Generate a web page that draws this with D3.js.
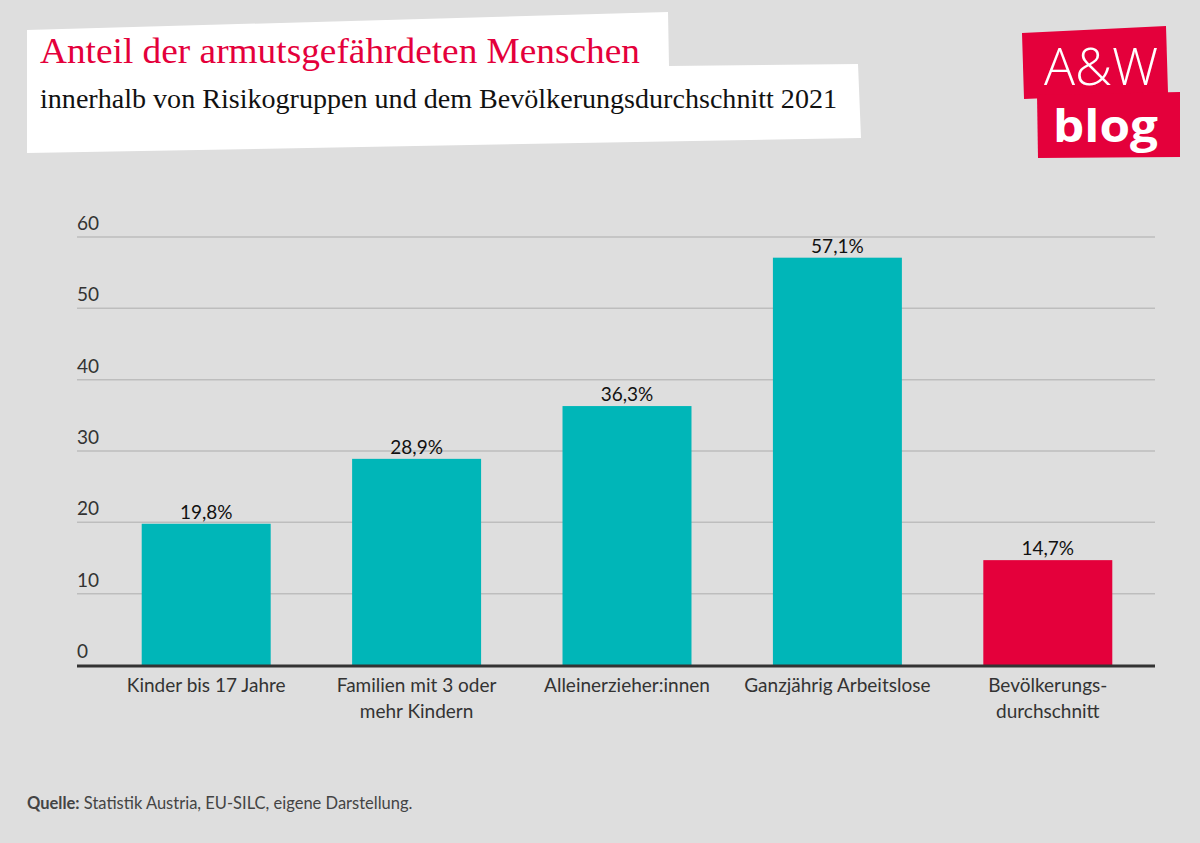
<!DOCTYPE html>
<html>
<head>
<meta charset="utf-8">
<script src="https://cdn.jsdelivr.net/npm/d3@7"></script>
<style>
  html, body { margin: 0; padding: 0; background: #dedede; }
  svg { display: block; }
</style>
</head>
<body>
<svg id="chart" width="1200" height="843"></svg>
<script>
const categories = [
  ["Kinder bis 17 Jahre"],
  ["Familien mit 3 oder", "mehr Kindern"],
  ["Alleinerzieher:innen"],
  ["Ganzjährig Arbeitslose"],
  ["Bevölkerungs-", "durchschnitt"]
];
const values = [19.8, 28.9, 36.3, 57.1, 14.7];
const valueLabels = ["19,8%", "28,9%", "36,3%", "57,1%", "14,7%"];
const highlight = [false, false, false, false, true];
const yTicks = [0, 10, 20, 30, 40, 50, 60];
const title = "Anteil der armutsgefährdeten Menschen";
const subtitle = "innerhalb von Risikogruppen und dem Bevölkerungsdurchschnitt 2021";
const source = "Statistik Austria, EU-SILC, eigene Darstellung.";

(function () {
const teal = "#00b6b8", red = "#e4003b";
const sans = "Lato, 'Open Sans', sans-serif";
const serif = "'Liberation Serif', 'DejaVu Serif', serif";

const svg = d3.select("#chart");
svg.append("rect").attr("width", 1200).attr("height", 843).attr("fill", "#dedede");

// title white backdrop
svg.append("path")
  .attr("d", "M27,30 L668,12 L669,66 L858,64 L861,138 L27,153 Z")
  .attr("fill", "#ffffff");
svg.append("text").attr("x", 40).attr("y", 63)
  .attr("font-family", serif).attr("font-size", 35).attr("fill", red)
  .attr("textLength", 600).attr("lengthAdjust", "spacingAndGlyphs")
  .text(title);
svg.append("text").attr("x", 40).attr("y", 108)
  .attr("font-family", serif).attr("font-size", 27).attr("fill", "#111")
  .attr("textLength", 797).attr("lengthAdjust", "spacingAndGlyphs")
  .text(subtitle);

// logo
svg.append("path").attr("d", "M1022,33 L1166,26 L1168,93 L1024,99 Z").attr("fill", red);
svg.append("path").attr("d", "M1037,95 L1180,92 L1180,157 L1038,158 Z").attr("fill", red);
svg.append("text").attr("x", 1044).attr("y", 85)
  .attr("font-family", "'Open Sans', sans-serif").attr("font-weight", 300)
  .attr("font-size", 52).attr("fill", "#fff")
  .attr("textLength", 114).attr("lengthAdjust", "spacingAndGlyphs").text("A&W");
svg.append("text").attr("x", 1053).attr("y", 142)
  .attr("font-family", "'Open Sans', sans-serif").attr("font-weight", 700)
  .attr("font-size", 45).attr("fill", "#fff")
  .attr("textLength", 105).attr("lengthAdjust", "spacingAndGlyphs").text("blog");

// chart
const pLeft = 77, pRight = 1155, pTop = 237, pBottom = 665;
const x = d3.scaleBand().domain(d3.range(values.length)).range([101, 1153])
  .paddingInner(0.387).paddingOuter(0.1935);
const y = d3.scaleLinear().domain([0, 60]).range([pBottom, pTop]);

const grid = svg.append("g");
grid.selectAll("line").data(yTicks.filter(d => d > 0)).join("line")
  .attr("x1", pLeft).attr("x2", pRight)
  .attr("y1", d => y(d)).attr("y2", d => y(d))
  .attr("stroke", "#bdbdbd").attr("stroke-width", 1.5);
grid.selectAll("text").data(yTicks).join("text")
  .attr("x", pLeft).attr("y", d => y(d) - 7)
  .attr("font-family", sans).attr("font-size", 19).attr("fill", "#333")
  .text(d => d);

svg.append("g").selectAll("rect").data(values).join("rect")
  .attr("x", (d, i) => x(i)).attr("width", x.bandwidth())
  .attr("y", d => y(d)).attr("height", d => pBottom - y(d))
  .attr("fill", (d, i) => highlight[i] ? red : teal);

svg.append("g").selectAll("text").data(values).join("text")
  .attr("x", (d, i) => x(i) + x.bandwidth() / 2).attr("y", d => y(d) - 5)
  .attr("text-anchor", "middle").attr("font-family", sans).attr("font-size", 19)
  .attr("fill", "#111").text((d, i) => valueLabels[i]);

svg.append("line").attr("x1", pLeft).attr("x2", pRight).attr("y1", pBottom + 1).attr("y2", pBottom + 1)
  .attr("stroke", "#333").attr("stroke-width", 3);

const xl = svg.append("g").selectAll("text").data(categories).join("text")
  .attr("x", (d, i) => x(i) + x.bandwidth() / 2).attr("y", 692)
  .attr("text-anchor", "middle").attr("font-family", sans).attr("font-size", 19)
  .attr("fill", "#333");
xl.selectAll("tspan").data(d => d).join("tspan")
  .attr("x", function() { return d3.select(this.parentNode).attr("x"); })
  .attr("dy", (d, j) => j === 0 ? 0 : 26).text(d => d);

const src = svg.append("text").attr("x", 27).attr("y", 809)
  .attr("font-family", sans).attr("font-size", 16.5).attr("fill", "#444");
src.append("tspan").attr("font-weight", 700).text("Quelle:");
src.append("tspan").text(" " + source);
})();
</script>
</body>
</html>
